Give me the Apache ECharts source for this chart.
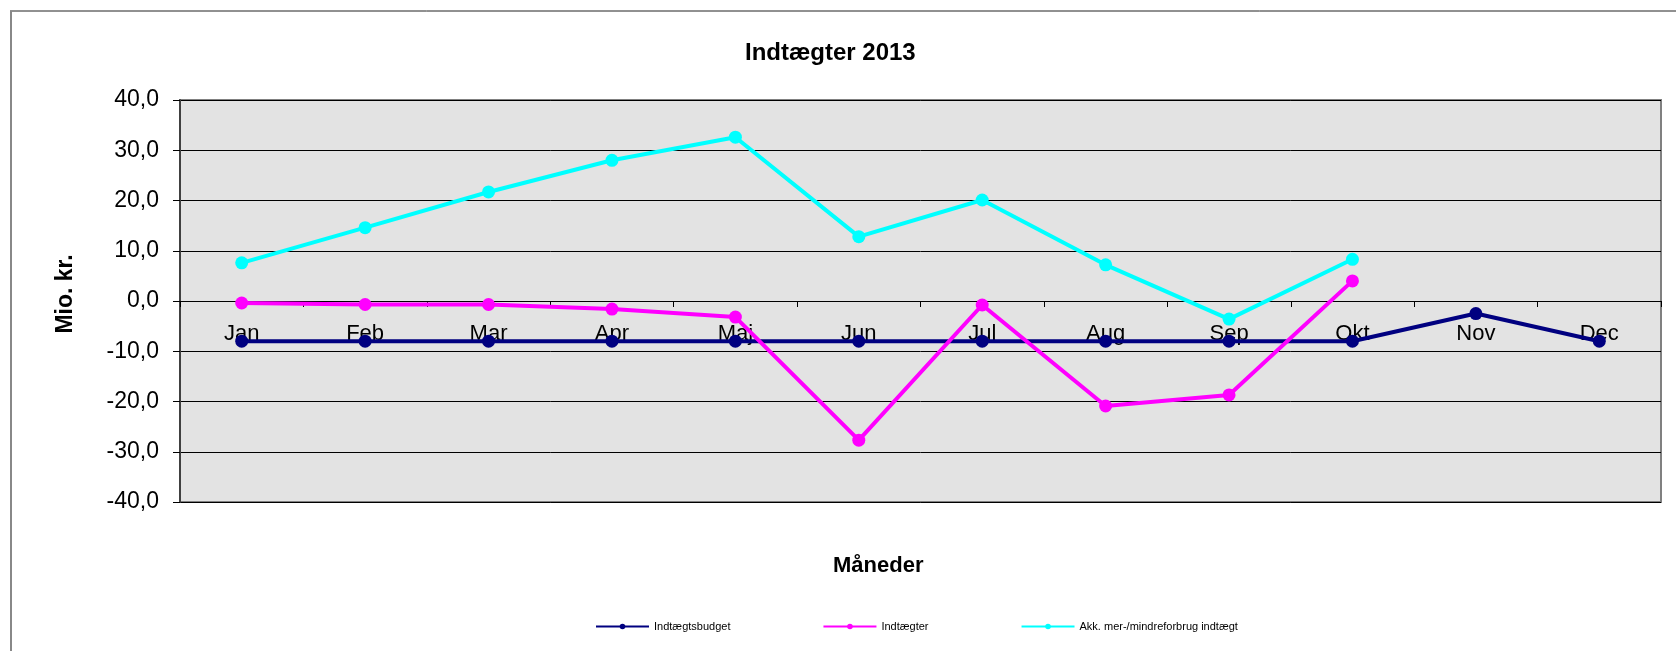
<!DOCTYPE html>
<html>
<head>
<meta charset="utf-8">
<title>Indtægter 2013</title>
<script src="https://cdn.jsdelivr.net/npm/echarts@6/dist/echarts.min.js"></script>
<style>
  html, body { margin: 0; padding: 0; background: #fff; }
  #chart { width: 1676px; height: 651px; }
</style>
</head>
<body>
<div id="chart"></div>
<script>
// month labels
const months = ['Jan', 'Feb', 'Mar', 'Apr', 'Maj', 'Jun', 'Jul', 'Aug', 'Sep', 'Okt', 'Nov', 'Dec']

// values, Mio. kr.
const budget = [-8.0, -8.0, -8.0, -8.0, -8.0, -8.0, -8.0, -8.0, -8.0, -8.0, -2.5, -8.0]
const indtaegter = [-0.4, -0.7, -0.7, -1.6, -3.2, -27.7, -0.8, -20.9, -18.7, 4.0, null, null]
const akk = [7.6, 14.6, 21.7, 28.0, 32.6, 12.8, 20.1, 7.2, -3.6, 8.3, null, null]

const chart = echarts.init(document.getElementById('chart'))

const fmt = (v) => v.toFixed(1).replace('.', ',')

function lineSeries(name, data, color) {
  return {
    name,
    type: 'line',
    data,
    symbol: 'circle',
    symbolSize: 13,
    lineStyle: { color, width: 4 },
    itemStyle: { color },
    connectNulls: false,
  }
}

chart.setOption({
  animation: false,
  textStyle: { fontFamily: 'Arial, "Liberation Sans", sans-serif' },
  title: [
    {
      text: 'Indtægter 2013',
      left: 740,
      top: 36,
      textStyle: { fontSize: 24, fontWeight: 'bold', color: '#000' },
    },
    {
      text: 'Måneder',
      left: 828,
      top: 550,
      textStyle: { fontSize: 22, fontWeight: 'bold', color: '#000' },
    },
  ],
  legend: {
    left: 590,
    top: 616,
    itemWidth: 53,
    itemHeight: 7,
    itemGap: 92,
    textStyle: { fontSize: 11, color: '#000' },
    lineStyle: { width: 2 },
    data: ['Indtægtsbudget', 'Indtægter', 'Akk. mer-/mindreforbrug indtægt'],
  },
  grid: {
    left: 180,
    right: 15,
    top: 100,
    bottom: 149,
    show: true,
    backgroundColor: '#E3E3E3',
    borderColor: '#808080',
    borderWidth: 2,
  },
  xAxis: {
    type: 'category',
    data: months,
    boundaryGap: true,
    axisLine: { onZero: true, lineStyle: { color: '#000', width: 1 } },
    axisTick: { show: true, length: 6, lineStyle: { color: '#000' } },
    // labels stay at the grid bottom, so pull them up under the zero line
    axisLabel: { fontSize: 22, color: '#000', margin: -179 },
    splitLine: { show: false },
  },
  yAxis: {
    type: 'value',
    min: -40,
    max: 40,
    interval: 10,
    axisLine: { show: true, lineStyle: { color: '#404040', width: 2 } },
    axisTick: { show: true, length: 7, lineStyle: { color: '#000' } },
    axisLabel: { fontSize: 23, color: '#000', margin: 21, formatter: fmt },
    splitLine: { show: true, lineStyle: { color: '#000', width: 1 } },
  },
  graphic: [
    {
      type: 'line',
      shape: { x1: 10, y1: 11, x2: 1676, y2: 11 },
      style: { stroke: '#222', lineWidth: 1 },
    },
    {
      type: 'line',
      shape: { x1: 11, y1: 11, x2: 11, y2: 651 },
      style: { stroke: '#888', lineWidth: 2 },
    },
    {
      type: 'text',
      x: 66,
      y: 294,
      rotation: Math.PI / 2,
      style: {
        text: 'Mio. kr.',
        fontSize: 23,
        fontWeight: 'bold',
        fontFamily: 'Arial, "Liberation Sans", sans-serif',
        fill: '#000',
        align: 'center',
        verticalAlign: 'middle',
      },
    },
  ],
  series: [
    lineSeries('Indtægtsbudget', budget, '#000080'),
    lineSeries('Indtægter', indtaegter, '#FF00FF'),
    lineSeries('Akk. mer-/mindreforbrug indtægt', akk, '#00FFFF'),
  ],
})

window.onresize = () => {
  chart.resize()
}
</script>
</body>
</html>
